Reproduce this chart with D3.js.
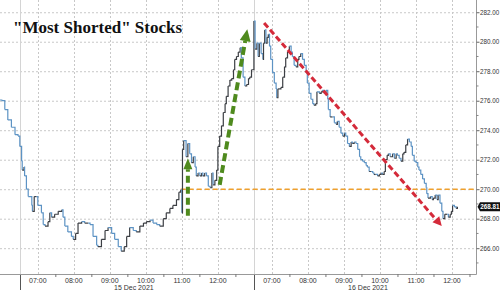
<!DOCTYPE html>
<html>
<head>
<meta charset="utf-8">
<script src="https://cdn.jsdelivr.net/npm/d3@7"></script>
<style>
  body { margin: 0; background: #fff; }
  svg { display: block; font-family: "Liberation Sans", Arial, sans-serif; }
</style>
</head>
<body>
<svg id="chart" width="500" height="290"></svg>
<script>
// tail of the previous session (14 Dec)
const priorTimes = ["12:27", "12:30", "12:35", "12:40", "12:46", "12:52", "12:57"];
const priorValues = [276.05, 276.0, 275.4, 274.7, 274.2, 273.7, 273.6];

// 15 Dec 2021
const day1Times = [
  "06:30", "06:33", "06:34", "06:37", "06:38", "06:41", "06:44", "06:50", "06:51", "06:54",
  "06:58", "07:00", "07:06", "07:09", "07:12", "07:17", "07:20", "07:23", "07:28", "07:34",
  "07:40", "07:42", "07:45", "07:50", "07:56", "07:59", "08:03", "08:07", "08:13", "08:18",
  "08:24", "08:27", "08:32", "08:38", "08:40", "08:46", "08:52", "08:57", "09:03", "09:08",
  "09:14", "09:19", "09:24", "09:28", "09:33", "09:39", "09:44", "09:50", "09:56", "10:01",
  "10:07", "10:12", "10:18", "10:23", "10:29", "10:34", "10:40", "10:45", "10:51", "10:55",
  "10:58", "11:00", "11:01", "11:03", "11:07", "11:10", "11:13", "11:16", "11:19", "11:22",
  "11:24", "11:27", "11:30", "11:33", "11:35", "11:38", "11:41", "11:44", "11:47", "11:50",
  "11:52", "11:55", "11:58", "12:00", "12:03", "12:06", "12:09", "12:12", "12:14", "12:17",
  "12:20", "12:23", "12:26", "12:28", "12:31", "12:34", "12:37", "12:39", "12:42", "12:45",
  "12:48", "12:51", "12:53", "12:56"
];
const day1Values = [
  272.9, 271.9, 271.3, 271.5, 270.9, 270.0, 269.5, 268.9, 268.5, 269.5,
  269.5, 268.9, 268.4, 267.6, 267.5, 267.8, 268.4, 268.1, 268.3, 268.5,
  268.6, 268.1, 267.5, 267.1, 266.8, 266.6, 267.0, 267.7, 267.8, 267.7,
  267.7, 267.6, 266.8, 266.2, 266.1, 266.6, 267.2, 267.4, 267.0, 266.6,
  266.1, 265.8, 266.1, 266.8, 267.4, 267.2, 267.1, 267.5, 267.7, 267.8,
  267.9, 267.7, 267.6, 267.5, 268.0, 268.4, 268.7, 268.9, 269.3, 269.8,
  269.95, 268.4, 272.7, 273.3, 272.2, 273.1, 272.4, 271.8, 272.2, 271.5,
  270.9, 271.1, 270.9, 271.1, 270.9, 271.1, 270.9, 270.2, 270.1, 271.1,
  270.3, 270.6, 271.3, 272.9, 273.6, 274.3, 275.2, 275.8, 276.3, 277.0,
  277.4, 277.5, 278.1, 278.8, 279.0, 279.3, 279.6, 278.9, 277.6, 277.0,
  277.1, 277.5, 277.6, 278.1
];

// 16 Dec 2021
const day2Times = [
  "06:30", "06:32", "06:35", "06:37", "06:39", "06:42", "06:45", "06:46", "06:48", "06:50",
  "06:52", "06:54", "06:56", "06:58", "07:01", "07:04", "07:07", "07:08", "07:10", "07:12",
  "07:15", "07:18", "07:21", "07:23", "07:26", "07:29", "07:32", "07:34", "07:37", "07:40",
  "07:43", "07:45", "07:48", "07:51", "07:54", "07:57", "07:59", "08:02", "08:05", "08:08",
  "08:10", "08:13", "08:15", "08:19", "08:22", "08:24", "08:27", "08:30", "08:33", "08:34",
  "08:37", "08:41", "08:44", "08:47", "08:49", "08:52", "08:55", "08:58", "09:01", "09:03",
  "09:06", "09:09", "09:12", "09:14", "09:17", "09:20", "09:23", "09:26", "09:28", "09:31",
  "09:34", "09:37", "09:39", "09:42", "09:45", "09:48", "09:50", "09:53", "09:56", "09:59",
  "10:02", "10:04", "10:07", "10:09", "10:12", "10:14", "10:17", "10:21", "10:24", "10:27",
  "10:29", "10:32", "10:35", "10:38", "10:40", "10:43", "10:46", "10:49", "10:52", "10:54",
  "10:57", "11:00", "11:03", "11:05", "11:08", "11:11", "11:14", "11:17", "11:18", "11:20",
  "11:24", "11:27", "11:29", "11:32", "11:35", "11:37", "11:40", "11:43", "11:45", "11:48",
  "11:52", "11:54", "11:57", "11:59", "12:01", "12:04", "12:07", "12:09"
];
const day2Values = [
  281.4, 279.5, 279.9, 279.0, 279.9, 279.2, 278.8, 279.9, 280.8, 279.9,
  280.3, 280.5, 279.7, 278.8, 277.9, 277.2, 276.8, 276.2, 276.8, 276.8,
  276.9, 277.6, 278.3, 278.9, 279.3, 279.7, 279.3, 279.0, 278.4, 278.3,
  278.8, 279.0, 279.2, 278.8, 278.4, 277.9, 277.2, 276.5, 276.1, 275.8,
  275.7, 275.8, 276.6, 276.5, 276.6, 276.7, 276.5, 276.7, 276.1, 275.4,
  274.9, 274.9, 274.5, 274.4, 274.6, 274.2, 273.8, 273.6, 273.8, 273.6,
  273.1, 272.9, 273.2, 273.1, 273.2, 273.1, 272.7, 272.2, 272.0, 271.9,
  271.8, 271.6, 271.5, 271.2, 271.2, 271.1, 271.0, 271.0, 270.9, 271.0,
  271.1, 271.0, 271.2, 272.0, 272.3, 272.4, 272.2, 272.4, 272.1, 272.4,
  272.3, 272.1, 271.9, 272.4, 272.5, 273.0, 273.4, 273.2, 272.9, 272.3,
  271.9, 271.8, 271.5, 271.3, 271.0, 270.7, 270.4, 270.1, 269.7, 269.4,
  269.5, 269.3, 269.4, 269.6, 269.3, 269.6, 269.05, 268.5, 268.0, 268.3,
  268.3, 268.1, 268.3, 268.5, 268.9, 268.8, 268.7, 268.81
];

const hourLabels = ["07:00", "08:00", "09:00", "10:00", "11:00", "12:00"];
const dateLabels = ["15 Dec 2021", "16 Dec 2021"];
const yTicks = [266, 268, 270, 272, 274, 276, 278, 280, 282];
const lastValue = 268.81;
const supportLevel = 270;

const width = 500;
const height = 290;
const plotRight = 476;
const plotBottom = 274;

// each session runs 06:30-13:00, sessions sit back to back on the axis
const sessionStart = { "14 Dec": -6.5, "15 Dec": 0, "16 Dec": 6.5 };
function sessionHour(day, hhmm) {
  const [h, m] = hhmm.split(":").map(Number);
  return sessionStart[day] + h + m / 60 - 6.5;
}

const points = [];
priorTimes.forEach((t, i) => points.push({ h: sessionHour("14 Dec", t), v: priorValues[i] }));
day1Times.forEach((t, i) => points.push({ h: sessionHour("15 Dec", t), v: day1Values[i] }));
day2Times.forEach((t, i) => points.push({ h: sessionHour("16 Dec", t), v: day2Values[i] }));

const x = d3.scaleLinear()
  .domain([sessionHour("14 Dec", "12:27"), sessionHour("16 Dec", "12:40")])
  .range([0, plotRight]);
const y = d3.scaleLinear()
  .domain([264.25, 282.83])
  .range([plotBottom, 0]);

const svg = d3.select("#chart");

// grid
const grid = svg.append("g");
grid.selectAll("line.hgrid")
  .data(yTicks)
  .join("line")
  .attr("x1", 0).attr("x2", plotRight)
  .attr("y1", d => y(d) + 0.5).attr("y2", d => y(d) + 0.5)
  .attr("stroke", "#c8c8c8")
  .attr("stroke-dasharray", "2,2");

const days = ["15 Dec", "16 Dec"];
const hourPositions = [];
days.forEach(day => hourLabels.forEach(lbl => hourPositions.push({ day, lbl, h: sessionHour(day, lbl) })));

grid.selectAll("line.vgrid")
  .data(hourPositions)
  .join("line")
  .attr("x1", d => Math.round(x(d.h)) + 0.5).attr("x2", d => Math.round(x(d.h)) + 0.5)
  .attr("y1", 0).attr("y2", plotBottom)
  .attr("stroke", "#c8c8c8")
  .attr("stroke-dasharray", "2,2");

// session separators
grid.selectAll("line.sep")
  .data(days)
  .join("line")
  .attr("x1", d => Math.round(x(sessionHour(d, "06:30"))) + 0.5)
  .attr("x2", d => Math.round(x(sessionHour(d, "06:30"))) + 0.5)
  .attr("y1", 0).attr("y2", plotBottom)
  .attr("stroke", "#d4d4d4");
svg.selectAll("line.septick")
  .data(days)
  .join("line")
  .attr("x1", d => Math.round(x(sessionHour(d, "06:30"))) + 0.5)
  .attr("x2", d => Math.round(x(sessionHour(d, "06:30"))) + 0.5)
  .attr("y1", plotBottom).attr("y2", height)
  .attr("stroke", "#555");

// support level
svg.append("line")
  .attr("x1", x(sessionHour("15 Dec", "10:58"))).attr("x2", plotRight)
  .attr("y1", y(supportLevel)).attr("y2", y(supportLevel))
  .attr("stroke", "#f0a02c")
  .attr("stroke-width", 1.5)
  .attr("stroke-dasharray", "5,3");

// price line, up moves dark, down moves blue
const step = d3.line()
  .x(d => x(d.h))
  .y(d => y(d.v))
  .curve(d3.curveStepAfter);
svg.append("g")
  .selectAll("path")
  .data(d3.pairs(points))
  .join("path")
  .attr("d", step)
  .attr("fill", "none")
  .attr("stroke", ([a, b]) => b.v >= a.v ? "#3c3f44" : "#5d93c4")
  .attr("stroke-width", 1.2);

// annotation arrows
function arrow(from, to, color, sw, dash, headLen, headW) {
  const x0 = x(from[0]), y0 = y(from[1]), x1 = x(to[0]), y1 = y(to[1]);
  const ang = Math.atan2(y1 - y0, x1 - x0);
  const bx = x1 - headLen * Math.cos(ang), by = y1 - headLen * Math.sin(ang);
  svg.append("line")
    .attr("x1", x0).attr("y1", y0).attr("x2", bx).attr("y2", by)
    .attr("stroke", color)
    .attr("stroke-width", sw)
    .attr("stroke-dasharray", dash);
  const px = -Math.sin(ang) * headW / 2, py = Math.cos(ang) * headW / 2;
  svg.append("path")
    .attr("d", `M${x1},${y1}L${bx + px},${by + py}L${bx - px},${by - py}Z`)
    .attr("fill", color);
}
arrow([sessionHour("15 Dec", "11:10"), 268.2], [sessionHour("15 Dec", "11:10"), 272.1], "#4f8a1e", 4, "7,4", 11, 9);
arrow([sessionHour("15 Dec", "12:03"), 270.3], [sessionHour("15 Dec", "12:49"), 280.85], "#4f8a1e", 4, "8,4", 12, 11);
arrow([sessionHour("16 Dec", "06:47"), 281.27], [sessionHour("16 Dec", "11:43"), 267.5], "#d42a3a", 3, "6,3", 9, 9);

// axes
svg.append("line")
  .attr("x1", 0).attr("x2", plotRight + 0.5)
  .attr("y1", plotBottom + 0.5).attr("y2", plotBottom + 0.5)
  .attr("stroke", "#999");
svg.append("line")
  .attr("x1", plotRight + 0.5).attr("x2", plotRight + 0.5)
  .attr("y1", 0).attr("y2", plotBottom + 0.5)
  .attr("stroke", "#999");

const yAxis = svg.append("g")
  .attr("transform", `translate(${plotRight + 0.5},0)`)
  .call(d3.axisRight(y).tickValues(yTicks).tickFormat(d3.format(".2f")).tickSize(3).tickPadding(0.5));
yAxis.select(".domain").remove();
yAxis.selectAll("line").attr("stroke", "#666");
yAxis.selectAll("text").attr("font-size", 6.3).attr("fill", "#333").attr("font-family", null);

// minor value ticks
svg.selectAll("line.ymin")
  .data(yTicks.slice(0, -1).map(d => d + 1).concat([265]))
  .join("line")
  .attr("x1", plotRight).attr("x2", plotRight + 2.5)
  .attr("y1", d => y(d)).attr("y2", d => y(d))
  .attr("stroke", "#888");

// time ticks at half hours
const halfHours = [];
days.forEach(day => d3.range(7, 13).forEach(hr => halfHours.push(sessionHour(day, hr + ":30"))));
svg.selectAll("line.xtick")
  .data(halfHours.filter(h => x(h) < plotRight))
  .join("line")
  .attr("x1", d => x(d)).attr("x2", d => x(d))
  .attr("y1", plotBottom).attr("y2", plotBottom + 3)
  .attr("stroke", "#777");

svg.selectAll("text.hour")
  .data(hourPositions)
  .join("text")
  .attr("x", d => x(d.h))
  .attr("y", plotBottom + 9)
  .attr("text-anchor", "middle")
  .attr("font-size", 7)
  .attr("fill", "#333")
  .text(d => d.lbl);

svg.selectAll("text.date")
  .data(dateLabels)
  .join("text")
  .attr("x", (d, i) => x((sessionHour(days[i], "09:40"))))
  .attr("y", plotBottom + 15.5)
  .attr("text-anchor", "middle")
  .attr("font-size", 7)
  .attr("fill", "#333")
  .text(d => d);

// last value tag
const tag = svg.append("g").attr("transform", `translate(${plotRight + 1.5},${y(lastValue)})`);
tag.append("path")
  .attr("d", "M0,0L2.5,-4.5H23V4.5H2.5Z")
  .attr("fill", "#111");
tag.append("text")
  .attr("x", 2.8)
  .attr("y", 2.3)
  .attr("font-size", 6.3)
  .attr("font-weight", "bold")
  .attr("fill", "#fff")
  .text(lastValue.toFixed(2));

// title
svg.append("text")
  .attr("x", 13)
  .attr("y", 32.5)
  .attr("font-family", "'Liberation Serif', 'Times New Roman', serif")
  .attr("font-weight", "bold")
  .attr("font-size", 17)
  .attr("fill", "#111")
  .text('"Most Shorted" Stocks');
</script>
</body>
</html>
